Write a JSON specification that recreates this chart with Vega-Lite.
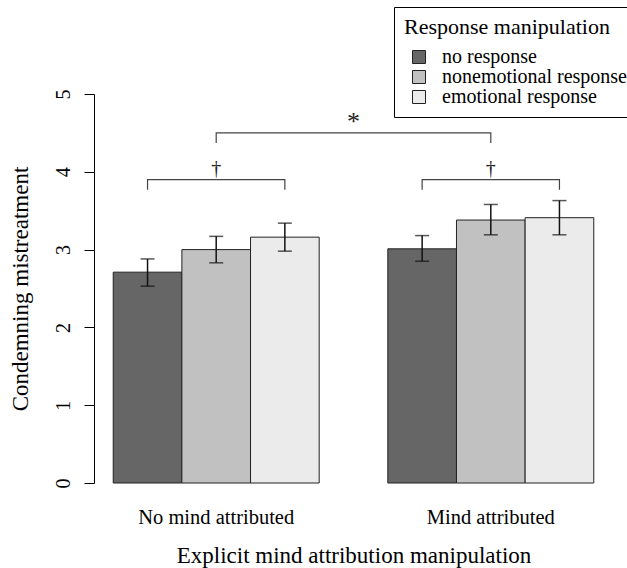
{
  "$schema": "https://vega.github.io/schema/vega-lite/v6.json",
  "width": 519,
  "height": 389,
  "autosize": "none",
  "padding": {"left": 94, "top": 94, "right": 14, "bottom": 85},
  "background": "white",
  "config": {
    "view": {"stroke": null},
    "font": "Liberation Serif",
    "axis": {"grid": false, "labelFont": "Liberation Serif", "titleFont": "Liberation Serif", "labelColor": "black", "titleColor": "black", "titleFontWeight": "normal"},
    "legend": {"labelFont": "Liberation Serif", "titleFont": "Liberation Serif"}
  },
  "datasets": {
    "bars": [
      {"group": "No mind attributed", "response": "no response", "mean": 2.71, "lo": 2.53, "hi": 2.88},
      {"group": "No mind attributed", "response": "nonemotional response", "mean": 3.00, "lo": 2.83, "hi": 3.17},
      {"group": "No mind attributed", "response": "emotional response", "mean": 3.16, "lo": 2.98, "hi": 3.34},
      {"group": "Mind attributed", "response": "no response", "mean": 3.01, "lo": 2.85, "hi": 3.18},
      {"group": "Mind attributed", "response": "nonemotional response", "mean": 3.38, "lo": 3.19, "hi": 3.58},
      {"group": "Mind attributed", "response": "emotional response", "mean": 3.41, "lo": 3.19, "hi": 3.63}
    ],
    "brackets": [
      {"bracket": "a", "k": 1, "group": "No mind attributed", "response": "no response", "y": 3.77},
      {"bracket": "a", "k": 2, "group": "No mind attributed", "response": "no response", "y": 3.90},
      {"bracket": "a", "k": 3, "group": "No mind attributed", "response": "emotional response", "y": 3.90},
      {"bracket": "a", "k": 4, "group": "No mind attributed", "response": "emotional response", "y": 3.77},
      {"bracket": "b", "k": 1, "group": "Mind attributed", "response": "no response", "y": 3.77},
      {"bracket": "b", "k": 2, "group": "Mind attributed", "response": "no response", "y": 3.90},
      {"bracket": "b", "k": 3, "group": "Mind attributed", "response": "emotional response", "y": 3.90},
      {"bracket": "b", "k": 4, "group": "Mind attributed", "response": "emotional response", "y": 3.77},
      {"bracket": "c", "k": 1, "group": "No mind attributed", "response": "nonemotional response", "y": 4.37},
      {"bracket": "c", "k": 2, "group": "No mind attributed", "response": "nonemotional response", "y": 4.50},
      {"bracket": "c", "k": 3, "group": "Mind attributed", "response": "nonemotional response", "y": 4.50},
      {"bracket": "c", "k": 4, "group": "Mind attributed", "response": "nonemotional response", "y": 4.37}
    ],
    "daggers": [
      {"group": "No mind attributed", "response": "nonemotional response", "y": 3.96, "label": "†"},
      {"group": "Mind attributed", "response": "nonemotional response", "y": 3.96, "label": "†"}
    ],
    "stars": [
      {"group": "No mind attributed", "y": 4.54, "label": "*"}
    ]
  },
  "layer": [
    {
      "data": {"name": "bars"},
      "mark": {"type": "bar", "stroke": "#222222", "strokeWidth": 1},
      "encoding": {
        "x": {
          "field": "group", "type": "nominal",
          "scale": {"domain": ["No mind attributed", "Mind attributed"], "paddingInner": 0.25, "paddingOuter": 0.07},
          "axis": {"title": "Explicit mind attribution manipulation", "labelAngle": 0, "domain": false, "ticks": false, "tickSize": 0, "labelFontSize": 20.5, "labelPadding": 24, "titleFontSize": 23, "titlePadding": 17}
        },
        "xOffset": {
          "field": "response", "type": "nominal",
          "scale": {"domain": ["no response", "nonemotional response", "emotional response"], "paddingInner": 0, "paddingOuter": 0}
        },
        "y": {
          "field": "mean", "type": "quantitative",
          "scale": {"domain": [0, 5], "nice": false, "zero": true},
          "axis": {"title": "Condemning mistreatment", "values": [0, 1, 2, 3, 4, 5], "format": "d", "domainColor": "black", "tickColor": "black", "tickSize": 10, "labelFontSize": 20, "labelAngle": -90, "labelAlign": "center", "labelBaseline": "alphabetic", "labelPadding": 15, "titleFontSize": 23, "titlePadding": 21}
        },
        "fill": {
          "field": "response", "type": "nominal",
          "scale": {"domain": ["no response", "nonemotional response", "emotional response"], "range": ["#666666", "#c0c1c0", "#eaebea"]},
          "legend": {"title": "Response manipulation", "orient": "none", "legendX": 300, "legendY": -87, "titleFont": "Liberation Serif", "labelFont": "Liberation Serif", "titleFontSize": 22, "titleFontWeight": "normal", "titleColor": "black", "labelFontSize": 20, "labelColor": "black", "labelLimit": 400, "titleLimit": 400, "symbolType": "square", "symbolSize": 169, "symbolStrokeColor": "#222222", "symbolStrokeWidth": 1, "symbolOpacity": 1, "strokeColor": "black", "fillColor": "white", "padding": 10, "symbolOffset": 5, "labelOffset": 13, "rowPadding": 0, "titlePadding": 8}
        }
      }
    },
    {
      "data": {"name": "bars"},
      "mark": {"type": "rule", "color": "#111111", "strokeWidth": 1.5},
      "encoding": {
        "x": {"field": "group", "type": "nominal"},
        "xOffset": {"field": "response", "type": "nominal"},
        "y": {"field": "lo", "type": "quantitative"},
        "y2": {"field": "hi"}
      }
    },
    {
      "data": {"name": "bars"},
      "mark": {"type": "tick", "orient": "horizontal", "color": "#111111", "size": 14, "thickness": 1.5},
      "encoding": {
        "x": {"field": "group", "type": "nominal"},
        "xOffset": {"field": "response", "type": "nominal"},
        "y": {"field": "lo", "type": "quantitative"}
      }
    },
    {
      "data": {"name": "bars"},
      "mark": {"type": "tick", "orient": "horizontal", "color": "#111111", "size": 14, "thickness": 1.5},
      "encoding": {
        "x": {"field": "group", "type": "nominal"},
        "xOffset": {"field": "response", "type": "nominal"},
        "y": {"field": "hi", "type": "quantitative"}
      }
    },
    {
      "data": {"name": "brackets"},
      "mark": {"type": "line", "color": "#444444", "strokeWidth": 1.2},
      "encoding": {
        "x": {"field": "group", "type": "nominal"},
        "xOffset": {"field": "response", "type": "nominal"},
        "y": {"field": "y", "type": "quantitative"},
        "detail": {"field": "bracket"},
        "order": {"field": "k", "type": "quantitative"}
      }
    },
    {
      "data": {"name": "daggers"},
      "mark": {"type": "text", "fontSize": 20, "baseline": "alphabetic", "fill": "#222222"},
      "encoding": {
        "x": {"field": "group", "type": "nominal"},
        "xOffset": {"field": "response", "type": "nominal"},
        "y": {"field": "y", "type": "quantitative"},
        "text": {"field": "label"}
      }
    },
    {
      "data": {"name": "stars"},
      "mark": {"type": "text", "fontSize": 26, "baseline": "alphabetic", "fill": "#222222"},
      "encoding": {
        "x": {"field": "group", "type": "nominal", "bandPosition": 1.1667},
        "y": {"field": "y", "type": "quantitative"},
        "text": {"field": "label"}
      }
    }
  ]
}
